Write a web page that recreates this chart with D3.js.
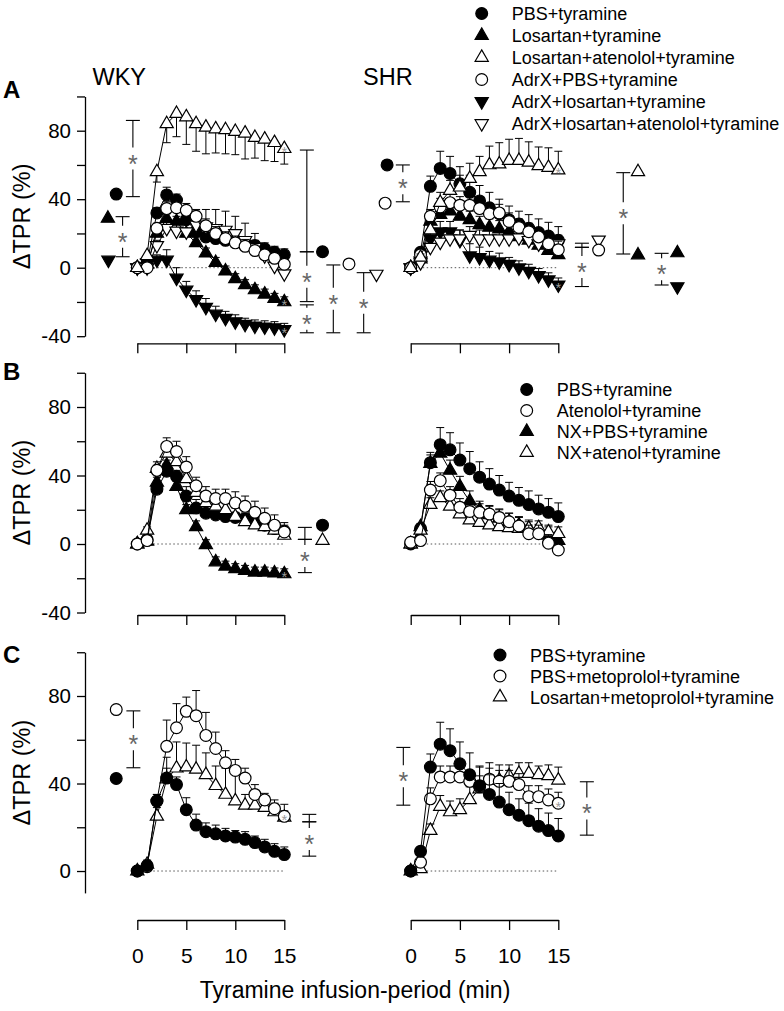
<!DOCTYPE html>
<html><head><meta charset="utf-8">
<script src="https://cdn.jsdelivr.net/npm/d3@7"></script>
<style>
body{margin:0;background:#fff}
svg{display:block}
text{font-family:"Liberation Sans",Arial,sans-serif;fill:#000}
</style>
</head><body>
<svg id="chart" width="784" height="1011"></svg>
<script>
// ---------------- DATA ----------------
const minutes = [0,1,2,3,4,5,6,7,8,9,10,11,12,13,14,15];
const xTickVals = [0,5,10,15];
const yTicksAB = [-40,-20,0,20,40,60,80,100];
const yLabelsAB = [-40,0,40,80];
const yTicksC = [0,20,40,60,80,100];
const yLabelsC = [0,40,80];
const groupNames = ["WKY","SHR"];
const panelLetters = ["A","B","C"];
const yTitle = "\u0394TPR (%)";
const xTitle = "Tyramine infusion-period (min)";

const legendA = ["PBS+tyramine","Losartan+tyramine","Losartan+atenolol+tyramine","AdrX+PBS+tyramine","AdrX+losartan+tyramine","AdrX+losartan+atenolol+tyramine"];
const legendASym = ["circle","triUp","triUp","circle","triDown","triDown"];
const legendAFill = [true,true,false,false,true,false];
const legendB = ["PBS+tyramine","Atenolol+tyramine","NX+PBS+tyramine","NX+atenol+tyramine"];
const legendBSym = ["circle","circle","triUp","triUp"];
const legendBFill = [true,false,true,false];
const legendC = ["PBS+tyramine","PBS+metoprolol+tyramine","Losartan+metoprolol+tyramine"];
const legendCSym = ["circle","circle","triUp"];
const legendCFill = [true,false,false];

// PBS+tyramine (shared control groups)
const wkyPBS    = [0,2.5,32,42.5,39.5,28,21,18,17,16,15.5,14.5,13,11,9,7.5];
const wkyPBSErr = [0,2,3,4.5,3.5,5.5,5,4,4,3.5,3,3.5,3,3.5,3.5,3.5];
const shrPBS    = [0,9,47.5,58,55,49,44,39,35,31.5,28,25.5,23,20.5,18.5,16];
const shrPBSErr = [0,2,6,10,10,10,10,9,9,8.5,8,7.5,8,8,8,8];

// Panel A – WKY
const aWkyLos        = [0,2,20,28.5,27,20,14.5,8.5,3,-2,-6.5,-10,-13,-15.5,-18,-20];
const aWkyLosErr     = [0,1.5,3,3,3,3,3.5,3,3,3,3,3,3,3,3,3];
const aWkyLosAten    = [0,7,56,84,90,88,84,82,81,80.5,79.5,78.5,76,75,73,69.5];
const aWkyLosAtenErr = [0,2,6,11,13.5,16,16,15.5,14,14,13.5,15,12,12.5,11,9];
const aWkyAdrPBS     = [0,0,23,34.5,35,33.5,30,24.5,20,17,14.5,12.5,10,7.5,5.5,2];
const aWkyAdrPBSErr  = [0,1,3,4,4,4,4,4,4,4,4,4,4,4,4,4];
const aWkyAdrLos     = [0,3,4.5,4.5,-6,-13,-18.5,-23,-27,-29.5,-31.5,-33,-34,-34.5,-35,-36];
const aWkyAdrLosErr  = [0,2,3,6,6,5,5,5,4.5,4,4,3.5,3.5,3.5,3.5,3.5];
const aWkyAdrLosAten    = [0,0,13,23,21.5,21,25,24,23,22,20,16,12,7,1,-3.5];
const aWkyAdrLosAtenErr = [0,1,3,5,6,8,8,10,11,11,10,10,8,6,5,4];
// Panel A – SHR
const aShrLos        = [0,5,27,31,33,30,28,25,23.5,22.5,21,18,16,13,10,7.5];
const aShrLosErr     = [0,2,4,5,5,5,5,5,5,5,5,5,5,5,5,5];
const aShrLosAten    = [0,6,22,38,45,47,52,56,60,60.5,62.5,62.5,61.5,59.5,58.5,57];
const aShrLosAtenErr = [0,2,5,6,6,7,9,9,11,12.5,12.5,13,12,11,11.5,11];
const aShrAdrPBS     = [0,7.5,30,35.5,38,36.5,36.5,34.5,31.5,32,27,23.5,21,18,14,10.5];
const aShrAdrPBSErr  = [0,2,4,5,5,5,5,5,5,5,5,5,5,5,5,5];
const aShrAdrLos     = [0,4,17,21,21,16,7,6,4.5,3.5,2,0,-2,-4.5,-7,-10];
const aShrAdrLosErr  = [0,2,5,6,6,6,7,6,5,5,4,4,4,4,4,4];
const aShrAdrLosAten    = [0,3,12,15,17,17,19,17,17,17,17,17.5,16,14,14,14];
const aShrAdrLosAtenErr = [0,2,4,4,5,5,5,5,5,5,5,5,5,5,5,5];

// Panel B
const bWkyAten      = [0,2,43,57,54,45,34,28,26.5,26.5,24,22,18.5,15,11,7];
const bWkyAtenErr   = [0,1,3,5,6,6,5,5.5,5.5,5.5,6.5,6,6.5,6,6,5.5];
const bWkyNx        = [0,1.5,36,46,33.5,20,10,-0.5,-10.5,-13,-14.5,-15.5,-16.5,-16.5,-17,-17.5];
const bWkyNxErr     = [0,1,3,3,3,3,3.5,3,3,3,3,3,3,3,3,3];
const bWkyNxAten    = [0,8,44,53,48,38,30,24,22,20,16,13,11,10,8,5];
const bWkyNxAtenErr = [0,2,4,4,5,5,5,5,5,5,5,5,5,5,4,4];
const bShrAten      = [1,2,31.5,37,28.5,21.5,19,18.5,17.5,15.5,13,10.5,6,6,0.5,-3.5];
const bShrAtenErr   = [0,1,5,4.5,5,5,5,5,5,5,5,5,5,5,5,5];
const bShrNx        = [0,10,47,53,43,33.5,25,20,17,15,13,11,9,6.5,5,2];
const bShrNxErr     = [0,2,5,6,6,6,6,5,5,5,5,5,5,5,5,5];
const bShrNxAten    = [0,8,23,27,22,17.5,14,12.5,11,10,9.5,9,9,9.5,7,6];
const bShrNxAtenErr = [0,2,4,4,4,4,4,4,4,4,4,4,4,4,4,4];

// Panel C
const cWkyMeto       = [0,2,32,57,65.5,73,71,62,56,49.5,46,42.5,35,32.5,28.5,25];
const cWkyMetoErr    = [0,1,3,12,11,6.5,11.5,10.5,7.5,5.5,5,4.5,4.5,3,4,5.5];
const cWkyLosMeto    = [0,3,25,42,47,47.5,46.5,44,39,35,32,30,30,29,27,24.5];
const cWkyLosMetoErr = [0,2,4,10,12,11,11,10,9,12,15,5,5,4,4,3];
const cShrMeto       = [0,4,33,43,43,43,41,38.5,42,41,41,39.5,34,34,32.5,31];
const cShrMetoErr    = [0,1,5,5,5,5,5,5,5,5,5,5,5,5,5,5];
const cShrLosMeto    = [0,1,18.5,29.5,27,28,32.5,37.5,41.5,41.5,43.5,44.5,44.5,44,43.5,41.5];
const cShrLosMetoErr = [0,1,3,5,5,5,6,10,8,7,5,5,5,4,5,6];

// Significance annotations (t in minutes-axis units, v in %)
const bracketsAW = [{t:-1.5,v1:29.8,v2:6.4,s:1},{t:-0.45,v1:86,v2:41.5,s:1},{t:17.3,v1:68.7,v2:9.3,s:0},{t:17.3,v1:9.3,v2:-19.8,s:1},{t:17.3,v1:-21.7,v2:-38,s:1},{t:20,v1:1.6,v2:-38,s:1},{t:23.1,v1:-2.9,v2:-38,s:1}];
const sideAW = [{t:-2.15,v:43,sym:"circle",f:1},{t:-3,v:28.8,sym:"triUp",f:1},{t:-2.95,v:4.5,sym:"triDown",f:1},{t:18.9,v:9.3,sym:"circle",f:1},{t:21.6,v:2.2,sym:"circle",f:0},{t:24.4,v:-3.7,sym:"triDown",f:0}];
const bracketsAS = [{t:-0.8,v1:60,v2:38.5,s:1},{t:17.4,v1:14.3,v2:11.9,s:0},{t:17.4,v1:11.9,v2:-11,s:1},{t:21.6,v1:55.5,v2:8,s:1},{t:25.5,v1:8.4,v2:-10.1,s:1}];
const sideAS = [{t:-2.4,v:60,sym:"circle",f:1},{t:-2.6,v:37.7,sym:"circle",f:0},{t:19.1,v:16.2,sym:"triDown",f:0},{t:19.1,v:10.3,sym:"circle",f:0},{t:23.1,v:56,sym:"triUp",f:0},{t:23.1,v:7.4,sym:"triUp",f:1},{t:27.1,v:8.6,sym:"triUp",f:1},{t:27.1,v:-11,sym:"triDown",f:1}];
const bracketsBW = [{t:17.1,v1:9.7,v2:2.7,s:0},{t:17.1,v1:2.7,v2:-16.7,s:1}];
const sideBW = [{t:18.9,v:11,sym:"circle",f:1},{t:18.9,v:2,sym:"triUp",f:0}];
const bracketsCW = [{t:-0.4,v1:73.2,v2:47.2,s:1},{t:17.55,v1:25.9,v2:22.5,s:0},{t:17.55,v1:22.5,v2:6.8,s:1}];
const sideCW = [{t:-2.15,v:73.8,sym:"circle",f:0},{t:-2.15,v:42.3,sym:"circle",f:1}];
const bracketsCS = [{t:-0.75,v1:56.5,v2:30.1,s:1},{t:17.9,v1:40.8,v2:16.4,s:1}];

// ---------------- DRAWING ----------------
const svg = d3.select("#chart");
const xW = d3.scaleLinear().domain([0,15]).range([137.3,284.3]);
const xS = d3.scaleLinear().domain([0,15]).range([410.7,558.3]);
const yA = d3.scaleLinear().domain([-40,100]).range([336.2,96.45]);
const yB = d3.scaleLinear().domain([-40,100]).range([612.5,372.75]);
const yC = d3.scaleLinear().domain([-10,100]).range([892.9,652.25]);

function symPath(sym){
  const r = 5.9, w = 13.2, h = 11.4;
  if(sym==="circle"){const p=d3.path();p.arc(0,0,r,0,2*Math.PI);p.closePath();return p.toString();}
  if(sym==="triUp") return `M0,${-h*2/3}L${w/2},${h/3}L${-w/2},${h/3}Z`;
  return `M0,${h*2/3}L${w/2},${-h/3}L${-w/2},${-h/3}Z`;
}
function drawSym(g,sym,filled,x,y){
  g.append("path").attr("d",symPath(sym)).attr("transform",`translate(${x},${y})`)
   .attr("fill",filled?"#000":"#fff").attr("stroke","#000").attr("stroke-width",1.2);
}
function star(g,x,y,fs,col){
  g.append("text").attr("x",x).attr("y",y+fs*0.56).attr("text-anchor","middle")
   .attr("font-size",fs).style("fill",col).text("*");
}

function drawSeries(g,x,y,s){
  const dir = s.dir||1;
  minutes.forEach((t,i)=>{
    const e = s.err[i]; if(!e) return;
    const y0=y(s.vals[i]), y1=y(s.vals[i]+dir*e), xx=x(t);
    g.append("line").attr("x1",xx).attr("x2",xx).attr("y1",y0).attr("y2",y1).attr("stroke","#000").attr("stroke-width",1);
    g.append("line").attr("x1",xx-4).attr("x2",xx+4).attr("y1",y1).attr("y2",y1).attr("stroke","#000").attr("stroke-width",1);
  });
  g.append("path").datum(s.vals).attr("fill","none").attr("stroke","#000").attr("stroke-width",1)
   .attr("d",d3.line().x((d,i)=>x(minutes[i])).y(d=>y(d)));
  s.vals.forEach((v,i)=>drawSym(g,s.sym,s.fill,x(minutes[i]),y(v)));
  if(s.star) star(g,x(15),y(s.vals[15]),15,"#9a9a9a");
}

function drawBrackets(g,x,y,list){
  list.forEach(b=>{
    const xx=x(b.t), y1=y(b.v1), y2=y(b.v2), hw=7;
    [y1,y2].forEach(yy=>g.append("line").attr("x1",xx-hw).attr("x2",xx+hw).attr("y1",yy).attr("y2",yy).attr("stroke","#000").attr("stroke-width",1.1));
    if(b.s){
      const m=(y1+y2)/2, gap=11;
      if(m-gap>y1) g.append("line").attr("x1",xx).attr("x2",xx).attr("y1",y1).attr("y2",m-gap).attr("stroke","#000").attr("stroke-width",1.1);
      if(m+gap<y2) g.append("line").attr("x1",xx).attr("x2",xx).attr("y1",m+gap).attr("y2",y2).attr("stroke","#000").attr("stroke-width",1.1);
      star(g,xx,m,25,"#666");
    } else {
      g.append("line").attr("x1",xx).attr("x2",xx).attr("y1",y1).attr("y2",y2).attr("stroke","#000").attr("stroke-width",1.1);
    }
  });
}
function drawSide(g,x,y,list){ list.forEach(m=>drawSym(g,m.sym,m.f,x(m.t),y(m.v))); }

function drawAxes(y,ticks,labels,xAxisY,showX){
  const ga = svg.append("g").attr("transform","translate(85,0)")
    .call(d3.axisLeft(y).tickValues(ticks).tickSize(8).tickSizeOuter(0).tickPadding(6)
      .tickFormat(d=>labels.includes(d)?d:""));
  ga.selectAll("path,line").attr("stroke","#000").attr("stroke-width",1.3);
  ga.selectAll("text").attr("font-size",20.5).attr("font-family","Liberation Sans, Arial, sans-serif");
  [xW,xS].forEach(x=>{
    const gx = svg.append("g").attr("transform",`translate(0,${xAxisY})`)
      .call(d3.axisBottom(x).tickValues(xTickVals).tickSize(10).tickSizeOuter(0).tickPadding(18)
        .tickFormat(d=>showX?d:""));
    gx.selectAll("path,line").attr("stroke","#000").attr("stroke-width",1.3);
    gx.selectAll("text").attr("font-size",21).attr("font-family","Liberation Sans, Arial, sans-serif");
  });
  const mid=(y.range()[0]+y.range()[1])/2;
  svg.append("text").attr("transform",`translate(30,${mid}) rotate(-90)`).attr("text-anchor","middle")
    .attr("font-size",23.5).text(yTitle);
}
function zeroLine(g,x,y){
  g.append("line").attr("x1",x(0)).attr("x2",x(15)).attr("y1",y(0)).attr("y2",y(0))
   .attr("stroke","#555").attr("stroke-width",1).attr("stroke-dasharray","1.5,2.5");
}
function legend(items,syms,fills,sx,tx,y0,dy){
  items.forEach((t,i)=>{
    const yy=y0+dy*i;
    drawSym(svg,syms[i],fills[i],sx,yy);
    svg.append("text").attr("x",tx).attr("y",yy+6.5).attr("font-size",18).text(t);
  });
}

// Axes
drawAxes(yA,yTicksAB,yLabelsAB,343.3,false);
drawAxes(yB,yTicksAB,yLabelsAB,615,false);
drawAxes(yC,yTicksC,yLabelsC,920,true);

// Titles
svg.append("text").attr("x",92.5).attr("y",85).attr("font-size",23.5).text(groupNames[0]);
svg.append("text").attr("x",363).attr("y",85).attr("font-size",23.5).text(groupNames[1]);
[[98.3],[380],[663.3]].forEach((p,i)=>svg.append("text").attr("x",3).attr("y",p[0]).attr("font-size",24).attr("font-weight","bold").text(panelLetters[i]));
svg.append("text").attr("x",355).attr("y",998).attr("text-anchor","middle").attr("font-size",23).text(xTitle);

// Panel A
const gA = svg.append("g");
zeroLine(gA,xW,yA); zeroLine(gA,xS,yA);
[
 {vals:aWkyAdrLos,err:aWkyAdrLosErr,sym:"triDown",fill:true,star:true},
 {vals:aWkyLos,err:aWkyLosErr,sym:"triUp",fill:true,star:true},
 {vals:wkyPBS,err:wkyPBSErr,sym:"circle",fill:true},
 {vals:aWkyAdrLosAten,err:aWkyAdrLosAtenErr,sym:"triDown",fill:false},
 {vals:aWkyAdrPBS,err:aWkyAdrPBSErr,sym:"circle",fill:false},
 {vals:aWkyLosAten,err:aWkyLosAtenErr,sym:"triUp",fill:false,dir:-1,star:true}
].forEach(s=>drawSeries(gA,xW,yA,s));
[
 {vals:aShrAdrLos,err:aShrAdrLosErr,sym:"triDown",fill:true,star:true},
 {vals:aShrLos,err:aShrLosErr,sym:"triUp",fill:true},
 {vals:shrPBS,err:shrPBSErr,sym:"circle",fill:true},
 {vals:aShrAdrLosAten,err:aShrAdrLosAtenErr,sym:"triDown",fill:false},
 {vals:aShrAdrPBS,err:aShrAdrPBSErr,sym:"circle",fill:false},
 {vals:aShrLosAten,err:aShrLosAtenErr,sym:"triUp",fill:false,star:true}
].forEach(s=>drawSeries(gA,xS,yA,s));
drawBrackets(gA,xW,yA,bracketsAW); drawSide(gA,xW,yA,sideAW);
drawBrackets(gA,xS,yA,bracketsAS); drawSide(gA,xS,yA,sideAS);

// Panel B
const gB = svg.append("g");
zeroLine(gB,xW,yB); zeroLine(gB,xS,yB);
[
 {vals:wkyPBS,err:wkyPBSErr,sym:"circle",fill:true},
 {vals:bWkyNxAten,err:bWkyNxAtenErr,sym:"triUp",fill:false},
 {vals:bWkyNx,err:bWkyNxErr,sym:"triUp",fill:true,star:true},
 {vals:bWkyAten,err:bWkyAtenErr,sym:"circle",fill:false}
].forEach(s=>drawSeries(gB,xW,yB,s));
[
 {vals:shrPBS,err:shrPBSErr,sym:"circle",fill:true},
 {vals:bShrNx,err:bShrNxErr,sym:"triUp",fill:true},
 {vals:bShrNxAten,err:bShrNxAtenErr,sym:"triUp",fill:false},
 {vals:bShrAten,err:bShrAtenErr,sym:"circle",fill:false}
].forEach(s=>drawSeries(gB,xS,yB,s));
drawBrackets(gB,xW,yB,bracketsBW); drawSide(gB,xW,yB,sideBW);

// Panel C
const gC = svg.append("g");
zeroLine(gC,xW,yC); zeroLine(gC,xS,yC);
[
 {vals:cWkyLosMeto,err:cWkyLosMetoErr,sym:"triUp",fill:false},
 {vals:cWkyMeto,err:cWkyMetoErr,sym:"circle",fill:false,star:true},
 {vals:wkyPBS,err:wkyPBSErr,sym:"circle",fill:true}
].forEach(s=>drawSeries(gC,xW,yC,s));
[
 {vals:cShrLosMeto,err:cShrLosMetoErr,sym:"triUp",fill:false},
 {vals:cShrMeto,err:cShrMetoErr,sym:"circle",fill:false,star:true},
 {vals:shrPBS,err:shrPBSErr,sym:"circle",fill:true}
].forEach(s=>drawSeries(gC,xS,yC,s));
drawBrackets(gC,xW,yC,bracketsCW); drawSide(gC,xW,yC,sideCW);
drawBrackets(gC,xS,yC,bracketsCS);

// Legends
legend(legendA,legendASym,legendAFill,481.7,511.7,13.5,22);
legend(legendB,legendBSym,legendBFill,526.7,556.7,389.5,21);
legend(legendC,legendCSym,legendCFill,500,530,655,21);
</script>
</body></html>
